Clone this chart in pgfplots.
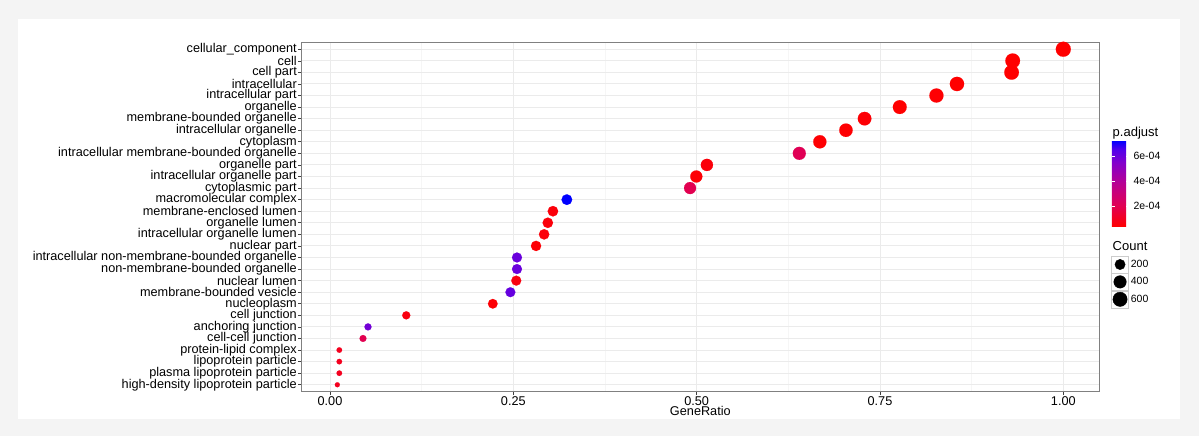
\documentclass[border=0pt]{standalone}
\usepackage{fontspec}
\setmainfont{Liberation Sans}
\usepackage{pgfplots}
\usepackage{pgfplotstable}
\pgfplotsset{compat=1.18}

% GO cellular component enrichment: y index (30 = top row), GeneRatio, Count, p.adjust
\pgfplotstableread{
y  ratio   count padj
30 1.0000  700   4.0e-5
29 0.9310  652   4.0e-5
28 0.9295  651   4.0e-5
27 0.8550  599   4.0e-5
26 0.8270  579   4.5e-5
25 0.7770  544   4.0e-5
24 0.7290  510   5.0e-5
23 0.7036  493   4.5e-5
22 0.6680  468   4.5e-5
21 0.6400  448   2.1e-4
20 0.5140  360   6.0e-5
19 0.4995  350   5.0e-5
18 0.4910  344   2.0e-4
17 0.3230  226   7.2e-4
16 0.3040  213   6.0e-5
15 0.2970  208   6.0e-5
14 0.2920  204   6.0e-5
13 0.2810  197   5.0e-5
12 0.2550  179   6.0e-4
11 0.2550  179   6.0e-4
10 0.2540  178   7.0e-5
9  0.2460  172   6.1e-4
8  0.2220  155   5.0e-5
7  0.1040  73    7.0e-5
6  0.0518  36    5.8e-4
5  0.0450  32    2.0e-4
4  0.0127  9     1.0e-4
3  0.0127  9     1.0e-4
2  0.0127  9     1.0e-4
1  0.0100  7     1.0e-4
}\gotable

\definecolor{bggray}{HTML}{F4F4F4}
\definecolor{gridmaj}{HTML}{EBEBEB}
\definecolor{gridmin}{HTML}{F6F6F6}

\begin{document}
\begin{tikzpicture}
\useasboundingbox (0,0) rectangle (1199pt,436pt);
\fill[bggray] (0,0) rectangle (1199pt,436pt);
\fill[white] (18pt,17pt) rectangle (1180pt,417pt);

\begin{axis}[
    at={(301.7pt,44.3pt)}, anchor=south west,
    scale only axis, width=797.3pt, height=349.4pt,
    xmin=-0.0386, xmax=1.0487, ymin=0.4, ymax=30.6,
    xtick={0,0.25,0.5,0.75,1},
    xticklabels={0.00,0.25,0.50,0.75,1.00},
    minor xtick={0.125,0.375,0.625,0.875},
    ytick={1,...,30},
    yticklabels={high-density lipoprotein particle, plasma lipoprotein particle,
        lipoprotein particle, protein-lipid complex, cell-cell junction,
        anchoring junction, cell junction, nucleoplasm, membrane-bounded vesicle,
        nuclear lumen, non-membrane-bounded organelle,
        intracellular non-membrane-bounded organelle, nuclear part,
        intracellular organelle lumen, organelle lumen, membrane-enclosed lumen,
        macromolecular complex, cytoplasmic part, intracellular organelle part,
        organelle part, intracellular membrane-bounded organelle, cytoplasm,
        intracellular organelle, membrane-bounded organelle, organelle,
        intracellular part, intracellular, cell part, cell, cellular\_component},
    ticklabel style={font=\fontsize{12.7}{13}\selectfont, black},
    yticklabel style={inner sep=1.2pt},
    xticklabel style={inner sep=1pt},
    xtick pos=left, ytick pos=left,
    tick align=outside, major tick length=3.5pt, minor tick length=0pt,
    tick style={black!75, line width=0.6pt},
    grid=both,
    major grid style={gridmaj, line width=0.9pt},
    minor grid style={gridmin, line width=0.7pt},
    axis line style={black!50, line width=0.8pt},
    xlabel={GeneRatio},
    xlabel style={font=\fontsize{12.7}{13}\selectfont, inner sep=0pt, yshift=0pt},
    colormap={rb}{rgb255(0)=(255,0,0) rgb255(5)=(224,0,85) rgb255(10)=(185,0,145)
        rgb255(15)=(130,0,205) rgb255(18)=(80,0,235) rgb255(20)=(0,0,255)},
    point meta min=3.9e-5, point meta max=7.2e-4,
    colorbar,
    colorbar style={
        at={(parent axis.north east)},
        anchor=north west,
        xshift=4.3pt, yshift=-98.4pt,
        scale only axis, width=18pt, height=86pt,
        scaled y ticks=false,
        ytick={2e-4,4e-4,6e-4},
        yticklabels={2e-04,4e-04,6e-04},
        yticklabel style={font=\fontsize{10.5}{11}\selectfont, black, inner sep=1pt, xshift=2.5pt},
        axis line style={draw=none},
        ytick pos=both, yticklabel pos=right,
        tick align=inside, major tick length=3.5pt,
        major tick style={white, line width=0.6pt},
    },
    legend style={
        at={(1.0151,0.3898)}, anchor=north west,
        draw=none, fill=none, inner sep=0pt, row sep=-0.2pt, column sep=2pt,
        nodes={inner sep=0pt, font=\fontsize{10.5}{11}\selectfont},
    },
    legend cell align=left,
]
\addplot[scatter, only marks, mark=*, forget plot,
    scatter src=explicit,
    scatter/use mapped color={draw=mapped color, fill=mapped color},
    mark options={line width=0.1pt},
    visualization depends on={2.5+5*sqrt((\thisrow{count}-7)/693) \as \rad},
    scatter/@pre marker code/.append style={/tikz/mark size=\rad pt},
] table[x=ratio, y=y, meta=padj] {\gotable};

\addlegendimage{legend image code/.code={
    \draw[black!20, fill=white, line width=0.6pt] (-8.5pt,-8.5pt) rectangle (8.5pt,8.5pt);
    \fill[black] (0pt,0pt) circle[radius=5.15pt];}}
\addlegendentry{200}
\addlegendimage{legend image code/.code={
    \draw[black!20, fill=white, line width=0.6pt] (-8.5pt,-8.5pt) rectangle (8.5pt,8.5pt);
    \fill[black] (0pt,0pt) circle[radius=6.25pt];}}
\addlegendentry{400}
\addlegendimage{legend image code/.code={
    \draw[black!20, fill=white, line width=0.6pt] (-8.5pt,-8.5pt) rectangle (8.5pt,8.5pt);
    \fill[black] (0pt,0pt) circle[radius=7.15pt];}}
\addlegendentry{600}
\end{axis}

\node[anchor=west, inner sep=0pt, font=\fontsize{13}{14}\selectfont] at (1112.5pt,303pt) {p.adjust};
\node[anchor=west, inner sep=0pt, font=\fontsize{13}{14}\selectfont] at (1112.5pt,190.3pt) {Count};
\end{tikzpicture}
\end{document}
